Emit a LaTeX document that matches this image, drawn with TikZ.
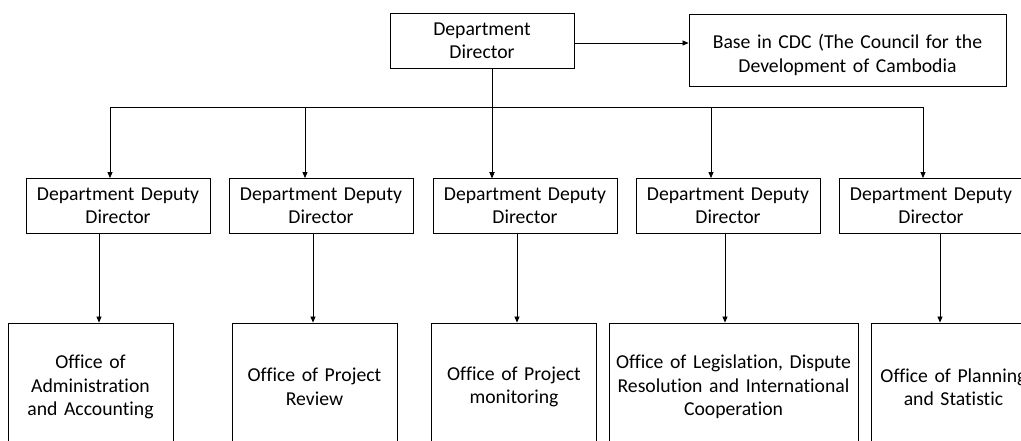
\documentclass[tikz,border=0pt]{standalone}
\usepackage{fontspec}
\setmainfont{Carlito}[Ligatures=NoCommon]
\usetikzlibrary{arrows.meta}

\tikzset{
	box/.style={draw, line width=0.9pt, align=center, inner sep=0pt,
		minimum width=184, text width=184, minimum height=55,
		font=\fontsize{19.7}{23.5}\selectfont},
	office/.style={box, minimum width=165, text width=165, minimum height=128},
	link/.style={line width=0.8pt, -{Triangle[length=6pt,width=5pt]}},
}

\begin{document}
\begin{tikzpicture}[x=1pt, y=-1pt]
		
		\useasboundingbox (0,0) rectangle (1021,441);
		\clip (0,0) rectangle (1021,441);
		
		% Top of the chart
		\node[box] (dir) at (482,41) {Department\\Director};
		\node[box, minimum width=317, text width=317, minimum height=72] (cdc) at (847.5,50)
			{\rule{0pt}{24pt}Base in CDC (The Council for the\\Development of Cambodia};
		\draw[link] ([yshift=-2]dir.east) -- ([yshift=-2]dir.east -| cdc.west);
		
		\coordinate (bus) at (0,107);
		
		% Deputy directors: n / x / arrow in / line out
		\foreach \n/\x/\a/\b in {1/118/-8/-19, 2/321/-16/-8, 3/525/-33/-8, 4/728/-17/-3, 5/931/-8/9} {
			\node[box] (dep\n) at (\x,206) {Department Deputy\\Director};
			\path (dep\n.north) ++(\a,0) coordinate (in\n);
			\path (dep\n.south) ++(\b,0) coordinate (out\n);
			\draw[link] (bus -| in\n) -- (in\n);
		}
		\draw[line width=0.8pt] (bus -| in1) -- (bus -| in5);
		\draw[link] (dir.south -| in3) -- (in3);
		
		% Offices
		\node[office] (off1) at (90.5,387) {Office of\\Administration\\and Accounting};
		\node[office] (off2) at (314.5,387) {Office of Project\\Review};
		\node[office] (off3) at (514,387) {Office of Project\\monitoring};
		\node[office, minimum width=249, text width=249] (off4) at (733.5,387)
			{Office of Legislation, Dispute\\Resolution and International\\Cooperation};
		\node[office] (off5) at (953.5,387) {Office of Planning\\and Statistic};
		
		\foreach \n in {1,...,5}
			\draw[link] (out\n) -- (out\n |- off\n.north);
		
	\end{tikzpicture}
\end{document}
